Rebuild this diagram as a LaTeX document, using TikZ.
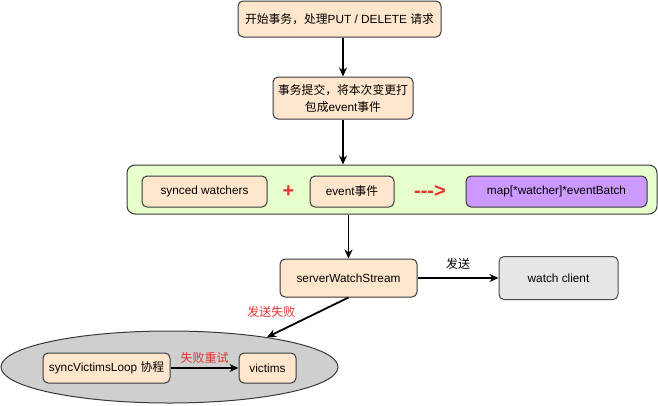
\documentclass[tikz,border=0pt]{standalone}
\usepackage{fontspec}
\setmainfont{Liberation Sans}
\newfontfamily\zh{Noto Sans CJK SC}
\usetikzlibrary{arrows.meta,shapes.geometric,positioning,calc}
\definecolor{boxfill}{HTML}{FFE6CC}
\definecolor{boxline}{HTML}{36393D}
\definecolor{groupfill}{HTML}{E6FFCC}
\definecolor{batchfill}{HTML}{CC99FF}
\definecolor{clientfill}{HTML}{E6E6E6}
\definecolor{poolfill}{HTML}{CFCFCF}
\definecolor{failred}{HTML}{E3342F}
\tikzset{
  every picture/.style = {
    x = 1pt,
    y = -1pt,
    >={Stealth[length=9pt,width=8pt]},
    node distance = 39pt and 68pt,
  }
  ,
  process/.style = {
    rectangle,
    rounded corners = 5pt,
    draw = boxline,
    fill = boxfill,
    line width = 1pt,
    font = \fontsize{11.8}{17}\selectfont,
    align = center,
    inner sep = 2pt
  }
  ,
  group/.style = {
    process,
    rounded corners = 8pt,
    fill = groupfill
  }
  , % plus and arrow signs
  sign/.style = {
    text = failred,
    font = \fontsize{20}{20}\selectfont\bfseries
  }
  , % labels of edges
  label-edge/.style = {
    font = \fontsize{12}{14}\zh
  }
  ,
  label-fail/.style = {
    label-edge,
    text = failred
  }
  ,
  flow/.style = {
    ->,
    line width = 1.8pt
  }
}
\begin{document}
\begin{tikzpicture}
\useasboundingbox (0,0) rectangle (658,405);

\node [process, minimum width=203pt, minimum height=36pt] (start) at (339.5,19) {{\zh 开始事务，处理}PUT / DELETE {\zh 请求}};
\node [process, minimum width=140pt, minimum height=42pt, below = 39pt of start, xshift=3.5pt] (pack) {{\zh 事务提交，将本次变更打}\\{\zh 包成}event{\zh 事件}};

\node [group, minimum width=530pt, minimum height=49pt] (group) at (392,189.5) {};
\node [process, minimum width=125pt, minimum height=31pt] (synced) at (204.5,191.5) {synced watchers};
\node [process, minimum width=84pt, minimum height=31pt, right = 42pt of synced] (event) {event{\zh 事件}};
\node [process, fill=batchfill, minimum width=181pt, minimum height=31pt, right = 71pt of event] (batch) {map[*watcher]*eventBatch};
\node [sign] (plus) at ($(synced.east)!0.5!(event.west)$) {+};
\node [sign] (goes) at ($(event.east)!0.5!(batch.west)$) {-\kern0pt-\kern0pt-\kern0pt>};

\node [process, minimum width=137pt, minimum height=38pt] (server) at (348.5,278) {serverWatchStream};
\node [process, fill=clientfill, draw=black!70, minimum width=119pt, minimum height=43pt, right = 81pt of server] (client) {watch client};

\node [ellipse, draw=boxline, fill=poolfill, line width=1pt, minimum width=337pt, minimum height=72pt, inner sep=0pt] (pool) at (169.5,367) {};
\node [process, minimum width=127pt, minimum height=30pt] (loop) at (106.5,368) {syncVictimsLoop {\zh 协程}};
\node [process, minimum width=57pt, minimum height=30pt, right = 68pt of loop] (victims) {victims};

\draw [flow] (start.south -| pack) -- (pack);
\draw [flow] (pack) -- (group.north -| pack);
\draw [flow] (group.south -| server) -- (server);
\draw [flow] (server) -- node [label-edge, above=4pt] {发送} (client);
\draw [flow] (server.south) -- node [label-fail, pos=0.6, above left=0pt] {发送失败} (pool.17);
\draw [flow] (loop) -- node [label-fail, above] {失败重试} (victims);
\end{tikzpicture}
\end{document}
